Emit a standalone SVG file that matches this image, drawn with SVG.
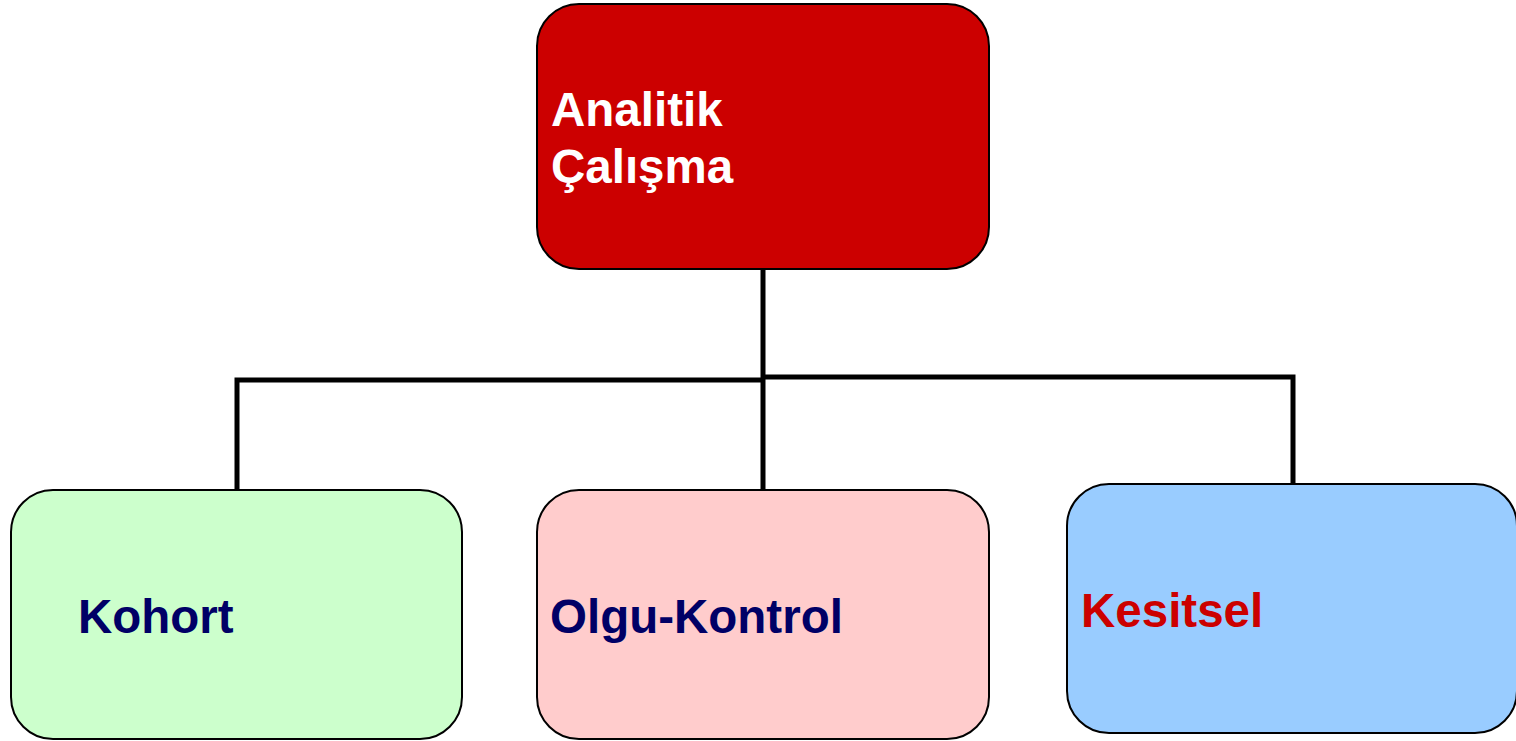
<svg xmlns="http://www.w3.org/2000/svg" width="1516" height="741" viewBox="0 0 1516 741">
<style>
.box{stroke:#000;stroke-width:2}
.t{font-family:"Liberation Sans",Arial,sans-serif;font-weight:bold;font-size:47.5px}
.conn{fill:none;stroke:#000;stroke-width:5}
</style>
<rect width="1516" height="741" fill="#fff"/>
<g id="connectors">
<line class="conn" x1="763" y1="269" x2="763" y2="490"/>
<polyline class="conn" points="763,380 237,380 237,490"/>
<polyline class="conn" points="763,377 1293,377 1293,484"/>
</g>
<g id="node-analitik">
<rect class="box" x="537" y="4" width="452" height="265" rx="42" fill="#CC0000"/>
<text class="t" x="551" y="126" fill="#fff">Analitik</text>
<text class="t" x="551" y="183" fill="#fff">Çalışma</text>
</g>
<g id="node-kohort">
<rect class="box" x="11" y="490" width="451" height="249" rx="42" fill="#CCFFCC"/>
<text class="t" x="78" y="633" fill="#000066">Kohort</text>
</g>
<g id="node-olgu">
<rect class="box" x="537" y="490" width="452" height="249" rx="42" fill="#FFCCCC"/>
<text class="t" x="550" y="633" fill="#000066">Olgu-Kontrol</text>
</g>
<g id="node-kesitsel">
<rect class="box" x="1067" y="484" width="450" height="249" rx="42" fill="#99CCFF"/>
<text class="t" x="1081" y="627" fill="#CC0000">Kesitsel</text>
</g>
</svg>
